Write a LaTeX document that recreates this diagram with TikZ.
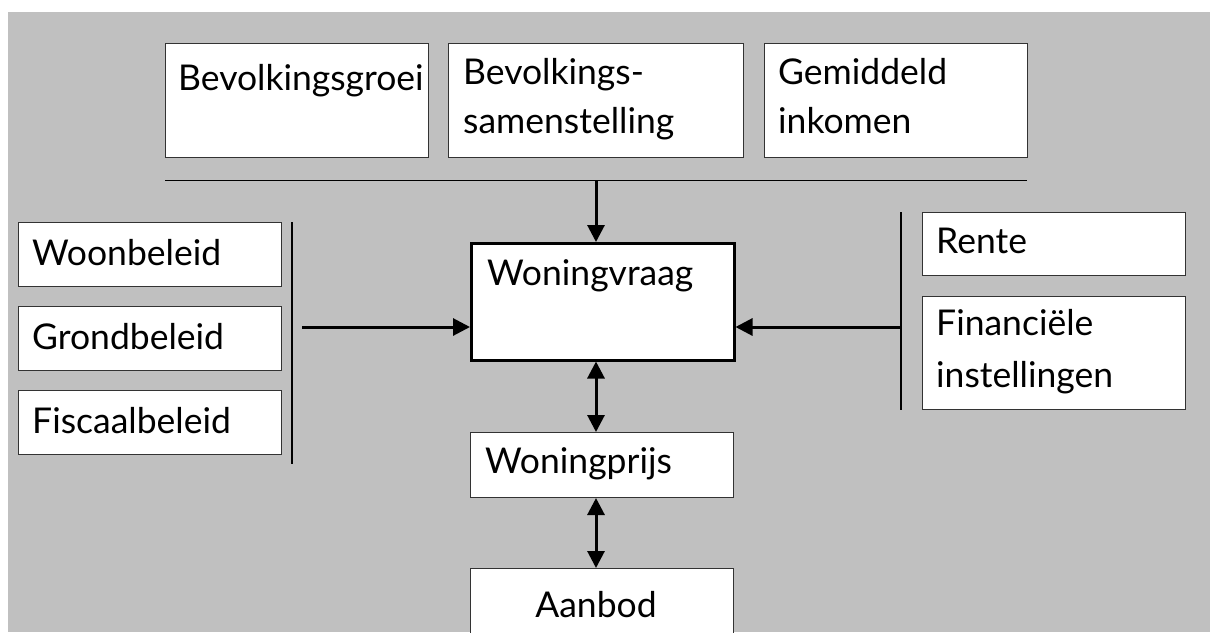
\documentclass[tikz,border=0pt]{standalone}
\usepackage{fontspec}
\setmainfont{Lato}
\usetikzlibrary{arrows.meta}
\definecolor{bg}{HTML}{C0C0C0}
\begin{document}
\begin{tikzpicture}[x=1pt,y=-1pt,
  box/.style={draw=black!80, line width=1pt, fill=white, anchor=north west, inner sep=0pt, minimum width=263pt},
  txt/.style={anchor=base west, inner sep=0pt, align=left, font=\fontsize{35.5}{49}\selectfont},
  tip/.tip={Triangle[length=17pt,width=17pt]},
  arr/.style={line width=3pt, -tip},
  darr/.style={line width=3pt, tip-tip},
  bar/.style={line width=1.2pt}]
\useasboundingbox (0,0) rectangle (1210,632);
\clip (0,0) rectangle (1210,632);
\fill[white] (0,0) rectangle (1210,632);
\fill[bg] (8,12) rectangle (1210,632);
% top boxes
\node[box, minimum height=114pt] (g1) at (165,43) {};
\node[box, minimum height=114pt, minimum width=295pt] (g2) at (448,43) {};
\node[box, minimum height=114pt] (g3) at (764,43) {};
\node[txt] (t1) at (178,90) {Bevolkingsgroei};
\node[txt] (t2) at (463,133) {Bevolkings-\\samenstelling};
\node[txt] (t3) at (778,133) {Gemiddeld\\inkomen};
% left boxes
\node[box, minimum height=64pt] (l1) at (18,222) {};
\node[box, minimum height=64pt] (l2) at (18,306) {};
\node[box, minimum height=64pt] (l3) at (18,390) {};
\node[txt] (tl1) at (32,265) {Woonbeleid};
\node[txt] (tl2) at (32,349) {Grondbeleid};
\node[txt] (tl3) at (32,433) {Fiscaalbeleid};
% right boxes
\node[box, minimum height=63pt] (r1) at (922,212) {};
\node[box, minimum height=113pt] (r2) at (922,296) {};
\node[txt] (tr1) at (936,253) {Rente};
\node[txt, font=\fontsize{35.5}{52}\selectfont] (tr2) at (936,387) {Financiële\\instellingen};
% centre column
\node[box, minimum height=117pt, line width=2.5pt, draw=black] (wv) at (470,242) {};
\node[txt] (twv) at (487,285) {Woningvraag};
\node[box, minimum height=65pt] (wp) at (470,432) {};
\node[txt] (twp) at (485,473) {Woningprijs};
\node[box, minimum height=90pt] (ab) at (470,568) {};
\node[txt, anchor=base] (tab) at (596,617) {Aanbod};
% bars
\coordinate (ax) at (596,0);
\coordinate (ay) at (0,327);
\coordinate (hl) at (165,180);
\coordinate (hr) at (1027,180);
\coordinate (lt) at (292,222);
\coordinate (lb) at (292,464);
\coordinate (rt) at (901,212);
\coordinate (rb) at (901,410);
\coordinate (la) at (302,327);
\coordinate (ra) at (901,327);
\draw[line width=1pt] (hl) -- (hr);
\draw[bar] (lt) -- (lb);
\draw[bar] (rt) -- (rb);
% arrows
\draw[arr] (hl -| ax) -- (wv.north -| ax);
\draw[arr] (la) -- (wv.west |- ay);
\draw[arr] (ra) -- (wv.east |- ay);
\draw[darr] (wv.south -| ax) -- (wp.north -| ax);
\draw[darr] (wp.south -| ax) -- (ab.north -| ax);
\end{tikzpicture}
\end{document}
